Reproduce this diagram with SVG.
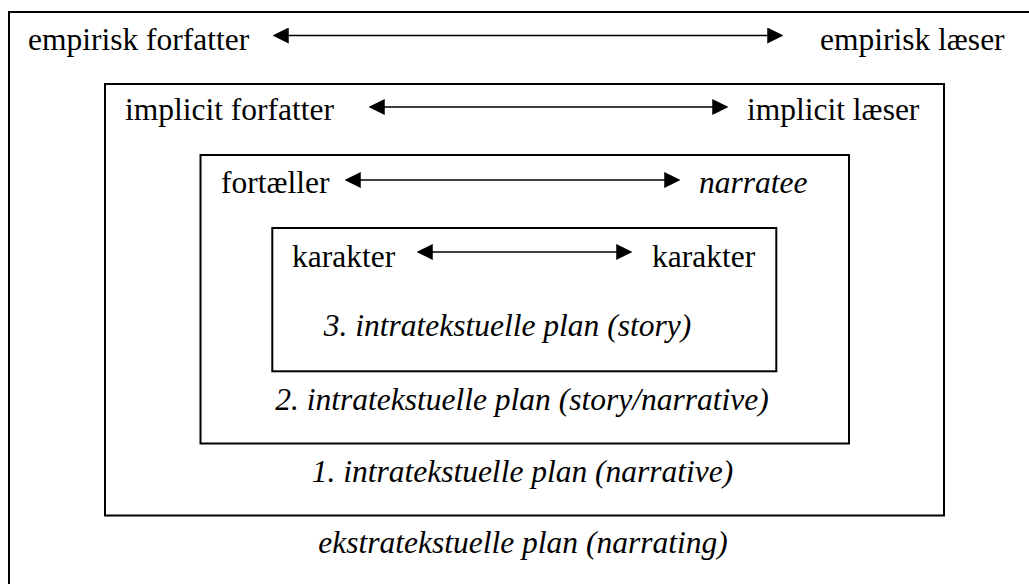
<svg xmlns="http://www.w3.org/2000/svg" width="1029" height="584" viewBox="0 0 1029 584">
  <style>
    .frame { fill: none; stroke: #000; stroke-width: 2; }
    .link { stroke: #000; stroke-width: 1.6; fill: none; marker-start: url(#head); marker-end: url(#head); }
    .serif { font-family: "Liberation Serif", "Times New Roman", Times, serif; font-size: 31.5px; fill: #000; }
    .it { font-style: italic; }
    .mid { text-anchor: middle; }
  </style>
  <defs>
    <marker id="head" markerUnits="userSpaceOnUse" markerWidth="16" markerHeight="16" viewBox="0 0 15 15" refX="11" refY="7.5" orient="auto-start-reverse">
      <path d="M0,0 L15,7.5 L0,15 z" fill="#000"/>
    </marker>
  </defs>
  <rect width="1029" height="584" fill="#fff"/>

  <g class="serif">
    <!-- extratextual level -->
    <g id="level-extra">
      <rect class="frame" x="9" y="12" width="1040" height="590"/>
      <text x="28" y="50">empirisk forfatter</text>
      <text x="820" y="50">empirisk læser</text>
      <text class="it mid" x="523" y="553">ekstratekstuelle plan (narrating)</text>
    </g>

    <!-- first intratextual level -->
    <g id="level-1">
      <rect class="frame" x="105" y="84" width="839" height="431.5"/>
      <text x="125" y="120">implicit forfatter</text>
      <text x="747" y="120">implicit læser</text>
      <text class="it mid" x="522.5" y="482">1. intratekstuelle plan (narrative)</text>
    </g>

    <!-- second intratextual level -->
    <g id="level-2">
      <rect class="frame" x="200.5" y="155" width="648.5" height="288.5"/>
      <text x="221" y="193">fortæller</text>
      <text class="it" x="699" y="193">narratee</text>
      <text class="it mid" x="522" y="410">2. intratekstuelle plan (story/narrative)</text>
    </g>

    <!-- third intratextual level -->
    <g id="level-3">
      <rect class="frame" x="272.3" y="228" width="504" height="143.3"/>
      <text x="292" y="267">karakter</text>
      <text x="652" y="267">karakter</text>
      <text class="it mid" x="507.5" y="336">3. intratekstuelle plan (story)</text>
    </g>
  </g>

  <!-- two-way communication arrows -->
  <g id="connectors">
    <line class="link" x1="277" y1="35.5" x2="779" y2="35.5"/>
    <line class="link" x1="373" y1="107" x2="724" y2="107"/>
    <line class="link" x1="349" y1="180" x2="676" y2="180"/>
    <line class="link" x1="421" y1="252" x2="628" y2="252"/>
  </g>
</svg>
